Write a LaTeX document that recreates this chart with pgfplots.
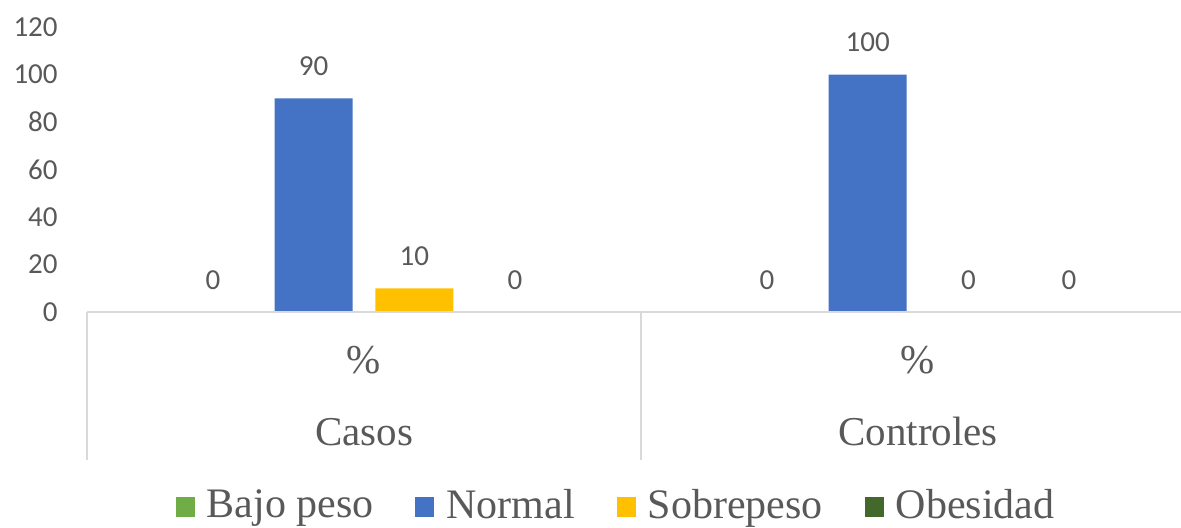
\documentclass[border=0pt]{standalone}
\usepackage{pgfplots}
\pgfplotsset{compat=1.18}
\usepackage{fontspec}
\setmainfont{Liberation Serif}
\newfontfamily\carlito{Carlito}
\definecolor{bajo}{HTML}{70AD47}
\definecolor{normal}{HTML}{4472C4}
\definecolor{sobre}{HTML}{FFC000}
\definecolor{obes}{HTML}{43682B}
\definecolor{txt}{HTML}{595959}
\definecolor{sep}{HTML}{D9D9D9}
\pgfplotsset{sq legend/.style={legend image code/.code={\fill[##1] (0pt,-6pt) rectangle (9.5pt,4pt);}}}
\begin{document}
\begin{tikzpicture}
\begin{axis}[
    scale only axis,
    width=547pt, height=142.5pt,
    xmin=0.5, xmax=2.4747,
    ymin=0, ymax=120,
    ybar=11.35pt, bar width=39pt,
    axis on top,
    axis lines*=left,
    x axis line style={-, draw=sep, line width=0.75pt},
    y axis line style={draw=none},
    major tick length=0pt,
    xtick={1,2},
    xticklabels={{\%\\Casos},{\%\\Controles}},
    xticklabel style={font=\fontsize{20.5}{36}\selectfont, text=txt, align=center,
      anchor=north, inner sep=0pt, yshift=-17pt},
    ytick={0,20,...,120},
    yticklabel style={font=\carlito\fontsize{14.5}{16}\selectfont, text=txt,
      anchor=east, inner sep=0pt, xshift=-14.5pt},
    /pgf/number format/assume math mode=true,
    nodes near coords,
    every node near coord/.append style={font=\carlito\fontsize{14.5}{16}\selectfont,
      text=txt, anchor=south, inner sep=0pt, yshift=11pt},
    clip=false,
    legend columns=4,
    legend style={at={(0.4845,-0.677)}, anchor=center, draw=none, fill=none,
      font=\fontsize{21}{24}\selectfont, text=txt,
      nodes={inner sep=2pt},
      /tikz/every odd column/.append style={column sep=4pt},
      /tikz/every even column/.append style={column sep=19pt}},
  ]
  \addplot[fill=bajo, draw=none, sq legend] coordinates {(1,0) (2,0)};
  \addplot[fill=normal, draw=none, sq legend] coordinates {(1,90) (2,100)};
  \addplot[fill=sobre, draw=none, sq legend] coordinates {(1,10) (2,0)};
  \addplot[fill=obes, draw=none, sq legend] coordinates {(1,0) (2,0)};
  \legend{Bajo peso, Normal, Sobrepeso, Obesidad}
  % group separators below the category axis
  \draw[sep, line width=0.75pt] (axis cs:0.5,0) -- ++(0pt,-74pt);
  \draw[sep, line width=0.75pt] (axis cs:1.5,0) -- ++(0pt,-74pt);
  \coordinate (o) at (rel axis cs:0,0);
\end{axis}
\pgfresetboundingbox
\path[use as bounding box] (o) ++(-43.5pt,-107.5pt) rectangle ++(590.5pt,263.5pt);
\end{tikzpicture}
\end{document}
